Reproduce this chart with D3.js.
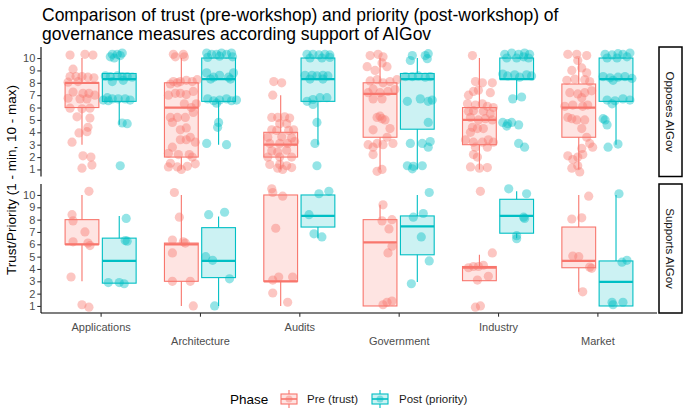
<!DOCTYPE html>
<html>
<head>
<meta charset="utf-8">
<script src="https://cdn.jsdelivr.net/npm/d3@7"></script>
<style>
  body { margin: 0; background: #fff; }
  svg { display: block; font-family: "Liberation Sans", Arial, sans-serif; }
</style>
</head>
<body>
<svg id="chart"></svg>
<script>
const categories = ["Applications", "Architecture", "Audits", "Government", "Industry", "Market"];
const phases = ["Pre (trust)", "Post (priority)"];
const facets = ["Opposes AIGov", "Supports AIGov"];
const yTicks = [1, 2, 3, 4, 5, 6, 7, 8, 9, 10];

// box stats as read: [lower whisker, q1, median, q3, upper whisker], one row per category
const boxOpposesPre = [[3, 6, 8, 8, 10], [1, 2, 6, 8, 10], [1, 2, 3, 4, 7], [1, 3.6, 7.1, 8, 10], [1, 3, 5, 6, 10], [1, 3.6, 6, 7.9, 10]];
const boxOpposesPost = [[4.6, 6.5, 8.3, 8.75, 10], [3, 6.5, 8.3, 10, 10], [3, 6.5, 8.3, 10, 10], [1, 4.25, 8.3, 8.75, 10], [6.6, 8.3, 8.3, 10, 10], [3, 6.5, 8.3, 10, 10]];
const boxSupportsPre = [[3, 6, 6, 8, 10], [1, 3, 6, 6.1, 10], [1, 3, 3, 10, 10], [1, 1, 6.15, 8, 9.2], [3, 3.05, 4.1, 4.2, 5.15], [2.15, 4.1, 4.65, 7.4, 10]];
const boxSupportsPost = [[2.85, 2.85, 4.65, 6.5, 8.3], [1, 3.3, 4.65, 7.35, 8.25], [6.5, 7.4, 8.3, 10, 10], [2.95, 5.15, 7.45, 8.3, 10], [6.5, 6.9, 8.3, 9.65, 10.3], [1, 1, 2.95, 4.65, 10]];

// jittered responses as read: [value, horizontal jitter in category units]
const pointsOpposesPre = [
  [[10.24,-0.12],[10.3,0.03],[10.24,0.11],[9.1,-0.09],[8.5,-0.12],[8.5,-0.06],[8.5,0],[8.45,0.06],[8.4,0.12],[8.05,-0.14],[8.1,-0.04],[7.25,-0.09],[7.15,0.01],[7.15,0.07],[7.0,0.13],[6.75,-0.14],[6.7,-0.02],[6.7,0.05],[5.95,-0.12],[5.9,0],[5.95,0.08],[5.25,-0.05],[5.15,0.08],[4.4,0.06],[3.95,-0.03],[4.05,0.05],[3.2,-0.1],[2.1,0.01],[2.0,0.09],[1.35,0.1],[1.1,0]],
  [[10.3,-0.08],[10.3,0.02],[10.1,-0.06],[10.1,0.03],[8.1,-0.08],[8.1,-0.01],[8.2,0.05],[8.1,0.11],[8.25,0.16],[7.9,-0.11],[8.0,-0.04],[7.15,-0.06],[7.15,-0.01],[7.05,0.05],[7.3,0.12],[7.0,-0.13],[6.3,0.03],[6.0,0.1],[6.3,0.15],[5.2,-0.11],[5.2,-0.04],[5.2,0.04],[5.6,0.12],[4.2,-0.01],[4.35,0.05],[4.8,-0.09],[3.4,-0.01],[3.4,0.05],[3.2,0.14],[3.6,0.09],[2.8,-0.09],[2.3,-0.13],[2.2,-0.03],[2.2,0.08],[2.0,0.11],[1.5,-0.11],[1.2,-0.04],[1.25,0.06],[1.45,0.14],[1.2,-0.13],[1.0,0.0]],
  [[8.1,-0.07],[8.0,0.01],[7.0,-0.08],[5.2,-0.09],[5.2,-0.03],[5.25,0.04],[5.15,0.09],[4.7,-0.01],[4.7,0.06],[4.2,-0.09],[4.15,-0.04],[4.15,0.08],[4.2,0.13],[3.6,-0.13],[3.65,0.01],[3.55,0.11],[3.1,-0.11],[3.1,-0.01],[3.1,0.07],[3.25,0.14],[2.5,-0.09],[2.4,-0.03],[2.55,0.06],[2.0,-0.13],[2.0,-0.01],[2.0,0.11],[1.4,-0.11],[1.4,-0.01],[1.3,0.06],[1.0,0.02],[1.15,0.11],[1.1,-0.03]],
  [[10.2,-0.1],[10.3,-0.02],[10.1,0.03],[9.6,0.02],[9.3,-0.13],[9.0,-0.05],[9.3,0.07],[8.15,-0.1],[8.25,-0.03],[8.0,0.03],[8.1,0.1],[8.25,0.17],[7.2,-0.12],[7.5,-0.07],[7.2,0.0],[7.3,0.08],[7.45,0.15],[6.7,-0.07],[6.7,0.02],[5.2,-0.03],[5.1,0.02],[5.0,0.05],[5.3,0.0],[4.2,-0.07],[4.3,0.1],[3.6,0.07],[3.0,-0.12],[3.1,-0.03],[3.0,0.03],[3.1,0.13],[2.8,-0.07],[2.2,-0.07],[1.0,0.02],[0.85,-0.03]],
  [[10.2,-0.07],[8.1,-0.04],[8.0,0.03],[8.0,0.13],[7.2,0.11],[7.3,-0.06],[7.4,-0.01],[7.0,-0.11],[6.3,-0.12],[6.2,-0.04],[6.3,0.03],[6.1,0.08],[6.0,0.14],[5.7,-0.11],[5.75,-0.06],[5.7,0.04],[5.5,0.11],[5.2,-0.09],[5.0,-0.01],[5.1,0.06],[5.0,0.13],[4.4,-0.07],[4.3,-0.02],[4.3,0.04],[4.0,-0.09],[3.4,-0.14],[3.2,-0.06],[3.2,0.03],[3.4,0.09],[3.2,0.14],[2.8,-0.04],[2.8,0.08],[2.2,-0.06],[2.0,-0.02],[1.2,-0.09],[1.1,0.0],[1.15,0.08]],
  [[10.3,-0.11],[10.3,-0.02],[10.2,0.08],[9.8,-0.01],[9.0,-0.07],[8.8,0.08],[9.2,0.03],[8.2,-0.12],[8.25,0.06],[8.3,-0.04],[8.1,0.11],[7.2,-0.09],[7.1,-0.01],[7.2,0.06],[7.35,0.13],[6.8,0.03],[6.1,-0.14],[6.2,-0.06],[6.1,0.04],[6.2,0.09],[5.1,-0.07],[5.0,-0.02],[5.0,0.06],[5.2,-0.11],[4.3,0.03],[3.6,0.08],[3.1,0.11],[2.8,0.14],[2.7,0.03],[2.1,-0.11],[2.0,-0.01],[1.8,-0.06],[2.2,0.04],[1.3,-0.01],[0.8,0.01],[1.1,-0.07]]
];
const pointsOpposesPost = [
  [[10.3,-0.07],[10.3,-0.02],[10.2,0.01],[10.1,-0.09],[10.0,-0.05],[10.4,0.03],[8.55,-0.14],[8.5,-0.09],[8.55,-0.02],[8.5,0.03],[8.5,0.08],[8.45,0.13],[8.1,-0.07],[8.2,0.04],[6.8,-0.12],[6.7,-0.07],[6.7,-0.01],[6.7,0.06],[6.6,-0.16],[6.55,-0.11],[6.6,0.11],[4.75,0.03],[4.7,0.08],[1.3,0.01]],
  [[10.4,-0.12],[10.3,-0.07],[10.3,-0.02],[10.4,0.03],[10.3,0.08],[10.4,0.13],[10.1,0.14],[10.05,-0.11],[10.15,0.01],[8.8,-0.12],[8.45,-0.05],[8.6,0.01],[8.45,0.1],[8.8,0.15],[8.3,-0.08],[8.3,0.12],[6.7,-0.11],[6.55,-0.05],[6.6,0.01],[6.7,0.08],[6.55,0.13],[6.6,0.18],[6.35,-0.02],[4.8,0.0],[4.4,-0.01],[3.1,-0.12],[3.0,0.08]],
  [[10.3,-0.11],[10.3,-0.05],[10.25,0.01],[10.3,0.07],[10.25,0.12],[10.0,-0.08],[10.0,0.04],[10.05,0.12],[8.6,-0.13],[8.6,-0.06],[8.55,-0.01],[8.6,0.05],[8.55,0.1],[8.3,-0.08],[8.3,0.05],[6.5,-0.11],[6.65,-0.05],[6.8,0.02],[6.8,0.09],[6.25,-0.05],[4.8,-0.01],[3.1,-0.03],[1.3,-0.01]],
  [[10.2,-0.05],[10.2,0.08],[10.35,0.11],[9.8,-0.07],[9.95,0.1],[8.5,-0.12],[8.5,-0.05],[8.55,0.01],[8.45,0.08],[8.5,0.13],[6.5,-0.1],[6.7,0.03],[6.5,0.11],[6.6,0.15],[4.8,0.11],[3.1,-0.07],[3.1,0.05],[2.8,0.11],[3.25,0.13],[1.3,-0.1],[1.25,-0.04],[1.3,0.05],[1.05,-0.05]],
  [[10.3,-0.12],[10.4,-0.05],[10.3,0.02],[10.4,0.08],[10.3,0.13],[10.0,-0.1],[10.0,0.0],[10.1,0.07],[10.0,0.12],[8.7,-0.14],[8.55,-0.09],[8.65,-0.02],[8.45,0.03],[8.65,0.1],[8.55,0.15],[6.7,-0.04],[6.85,0.05],[4.8,-0.14],[4.7,-0.09],[4.8,-0.05],[4.6,0.02],[4.5,-0.1],[3.1,0.02],[2.8,0.08]],
  [[10.3,-0.11],[10.25,-0.04],[10.35,0.02],[10.3,0.07],[10.4,0.14],[10.0,-0.09],[10.0,0.01],[10.1,0.11],[8.5,-0.13],[8.4,-0.06],[8.45,0.02],[8.5,0.09],[8.35,0.16],[8.2,-0.03],[6.6,-0.09],[6.55,-0.01],[6.7,0.07],[6.6,0.14],[6.3,-0.04],[5.0,-0.11],[4.6,-0.09],[5.1,-0.13],[2.8,-0.08],[3.05,0.02]]
];
const pointsSupportsPre = [
  [[10.3,0.07],[8.4,-0.1],[7.9,-0.09],[7.0,0.03],[6.2,-0.09],[6.1,0.06],[5.9,0.08],[3.35,-0.11],[1.1,0.0],[0.9,0.07]],
  [[10.2,-0.07],[8.2,-0.02],[6.35,-0.09],[6.2,0.02],[6.1,0.04],[5.3,-0.09],[3.0,-0.09],[3.0,0.09],[1.0,0.12]],
  [[10.5,-0.09],[10.2,-0.08],[9.9,0.02],[7.3,-0.05],[3.1,-0.08],[3.35,-0.02],[3.35,0.12],[2.05,-0.08],[1.3,0.07]],
  [[9.2,0.03],[7.9,0.02],[8.0,0.12],[7.25,0.09],[5.85,0.12],[5.3,0.08],[1.1,0.03],[1.3,0.07],[1.4,0.12]],
  [[10.3,0.01],[5.3,0.13],[4.1,-0.11],[4.2,-0.06],[4.2,-0.01],[4.3,0.04],[3.1,-0.02],[3.4,0.09],[0.9,-0.04],[1.0,0.01]],
  [[9.9,0.1],[8.05,-0.07],[8.15,0.03],[5.05,-0.06],[5.0,0.0],[4.15,0.11],[4.05,0.13],[2.15,0.04]]
];
const pointsSupportsPost = [
  [[8.1,0.07],[6.3,0.06],[6.25,0.08],[2.9,-0.11],[2.9,0.0],[2.8,0.05]],
  [[8.4,-0.1],[8.6,0.06],[5.0,-0.13],[4.7,-0.06],[3.2,0.11],[1.0,-0.04]],
  [[10.1,0.01],[10.3,0.11],[8.4,-0.09],[6.85,-0.04],[6.6,0.04]],
  [[10.2,0.12],[8.2,-0.04],[8.5,0.06],[6.6,0.04],[4.65,0.12],[2.8,-0.06]],
  [[10.5,-0.08],[10.1,0.1],[8.2,0.07],[8.1,0.08],[6.7,0.0],[6.45,0.0]],
  [[10.1,0.03],[4.55,0.06],[4.7,0.11],[1.3,-0.04],[1.3,0.07],[1.1,-0.03]]
];

const colors = { "Pre (trust)": "#F8766D", "Post (priority)": "#00BFC4" };

const width = 685;
const height = 409;
const plot = { left: 41, right: 657 };
const panels = [
  { facet: facets[0], top: 47, bottom: 176.5, boxes: [boxOpposesPre, boxOpposesPost], points: [pointsOpposesPre, pointsOpposesPost] },
  { facet: facets[1], top: 184, bottom: 313, boxes: [boxSupportsPre, boxSupportsPost], points: [pointsSupportsPre, pointsSupportsPost] }
];

const svg = d3.select("#chart").attr("width", width).attr("height", height);

const x = d3.scalePoint().domain(categories).range([plot.left, plot.right]).padding(0.6);
const step = x.step();
const dodge = 0.1875;
const boxW = 0.34 * step;

// title
const title = svg.append("text").attr("x", 42).attr("font-size", 17.5).attr("fill", "#000");
title.append("tspan").attr("x", 42).attr("y", 21).text("Comparison of trust (pre-workshop) and priority (post-workshop) of");
title.append("tspan").attr("x", 42).attr("y", 40).text("governance measures according support of AIGov");

panels.forEach((p, pi) => {
  const y = d3.scaleLinear().domain([0.43, 10.89]).range([p.bottom, p.top]);
  const g = svg.append("g");

  phases.forEach((phase, k) => {
    const col = colors[phase];
    const off = (k === 0 ? -dodge : dodge) * step;

    p.boxes[k].forEach((b, i) => {
      const cx = x(categories[i]) + off;
      const [lo, q1, med, q3, hi] = b;
      g.append("line")
        .attr("x1", cx).attr("x2", cx)
        .attr("y1", y(hi)).attr("y2", y(q3))
        .attr("stroke", col).attr("stroke-width", 1.1);
      g.append("line")
        .attr("x1", cx).attr("x2", cx)
        .attr("y1", y(q1)).attr("y2", y(lo))
        .attr("stroke", col).attr("stroke-width", 1.1);
      g.append("rect")
        .attr("x", cx - boxW / 2).attr("width", boxW)
        .attr("y", y(q3)).attr("height", Math.max(0, y(q1) - y(q3)))
        .attr("fill", col).attr("fill-opacity", 0.2)
        .attr("stroke", col).attr("stroke-width", 1.1);
      g.append("line")
        .attr("x1", cx - boxW / 2).attr("x2", cx + boxW / 2)
        .attr("y1", y(med)).attr("y2", y(med))
        .attr("stroke", col).attr("stroke-width", 2.2);
    });
  });

  phases.forEach((phase, k) => {
    const col = colors[phase];
    const off = (k === 0 ? -dodge : dodge) * step;
    p.points[k].forEach((pts, i) => {
      const cx = x(categories[i]) + off;
      g.selectAll(null)
        .data(pts)
        .enter()
        .append("circle")
        .attr("cx", (d) => cx + d[1] * step)
        .attr("cy", (d) => y(d[0]))
        .attr("r", 4.6)
        .attr("fill", col)
        .attr("fill-opacity", 0.42);
    });
  });

  // y axis
  const ax = svg.append("g")
    .attr("transform", `translate(${plot.left},0)`)
    .call(d3.axisLeft(y).tickValues(yTicks).tickSize(3.7).tickPadding(2).tickSizeOuter(0));
  ax.select(".domain").attr("stroke", "#000").attr("stroke-width", 1.1).attr("d", `M0,${p.top}V${p.bottom}`);
  ax.selectAll(".tick line").attr("stroke", "#333").attr("stroke-width", 1.1);
  ax.selectAll(".tick text").attr("fill", "#4D4D4D").attr("font-size", 11).attr("font-family", "Liberation Sans, Arial, sans-serif");

  // facet strip
  const sx = 659, sw = 23;
  svg.append("rect")
    .attr("x", sx).attr("y", p.top).attr("width", sw).attr("height", p.bottom - p.top)
    .attr("fill", "#fff").attr("stroke", "#000").attr("stroke-width", 1.5);
  svg.append("text")
    .attr("transform", `translate(${sx + sw / 2},${(p.top + p.bottom) / 2}) rotate(90)`)
    .attr("text-anchor", "middle").attr("dy", "0.35em")
    .attr("font-size", 11.5).attr("fill", "#1A1A1A")
    .text(p.facet);

  if (pi === panels.length - 1) {
    const bx = svg.append("g")
      .attr("transform", `translate(0,${p.bottom})`)
      .call(d3.axisBottom(x).tickSize(3.7).tickSizeOuter(0));
    bx.select(".domain").attr("stroke", "#000").attr("stroke-width", 1.1).attr("d", `M${plot.left},0H${plot.right}`);
    bx.selectAll(".tick line").attr("stroke", "#333").attr("stroke-width", 1.1);
    bx.selectAll(".tick text")
      .attr("fill", "#4D4D4D").attr("font-size", 11).attr("font-family", "Liberation Sans, Arial, sans-serif")
      .attr("dy", null)
      .attr("y", (d, i) => (i % 2 === 0 ? 18 : 32));
  }
});

// y axis title
svg.append("text")
  .attr("transform", `translate(16,${(47 + 313) / 2}) rotate(-90)`)
  .attr("text-anchor", "middle")
  .attr("font-size", 13.5).attr("fill", "#000")
  .text("Trust/Priority (1 - min, 10 - max)");

// legend
const legend = svg.append("g").attr("transform", "translate(0,399)");
legend.append("text").attr("x", 230).attr("y", 5).attr("font-size", 13.5).attr("fill", "#000").text("Phase");
const keyX = [280, 371];
const labelX = [307, 399];
phases.forEach((phase, k) => {
  const col = colors[phase];
  const kx = keyX[k] + 9;
  const kg = legend.append("g");
  kg.append("line").attr("x1", kx).attr("x2", kx).attr("y1", -9).attr("y2", 9).attr("stroke", col).attr("stroke-width", 1.1);
  kg.append("rect").attr("x", kx - 8).attr("y", -5).attr("width", 16).attr("height", 10)
    .attr("fill", "#fff").attr("stroke", "none");
  kg.append("rect").attr("x", kx - 8).attr("y", -5).attr("width", 16).attr("height", 10)
    .attr("fill", col).attr("fill-opacity", 0.2).attr("stroke", col).attr("stroke-width", 1.1);
  kg.append("line").attr("x1", kx - 8).attr("x2", kx + 8).attr("y1", 0).attr("y2", 0).attr("stroke", col).attr("stroke-width", 1.6);
  kg.append("circle").attr("cx", kx).attr("cy", 0).attr("r", 3.5).attr("fill", col).attr("fill-opacity", 0.42);
  legend.append("text").attr("x", labelX[k]).attr("y", 4).attr("font-size", 11.5).attr("fill", "#1A1A1A").text(phase);
});
</script>
</body>
</html>
